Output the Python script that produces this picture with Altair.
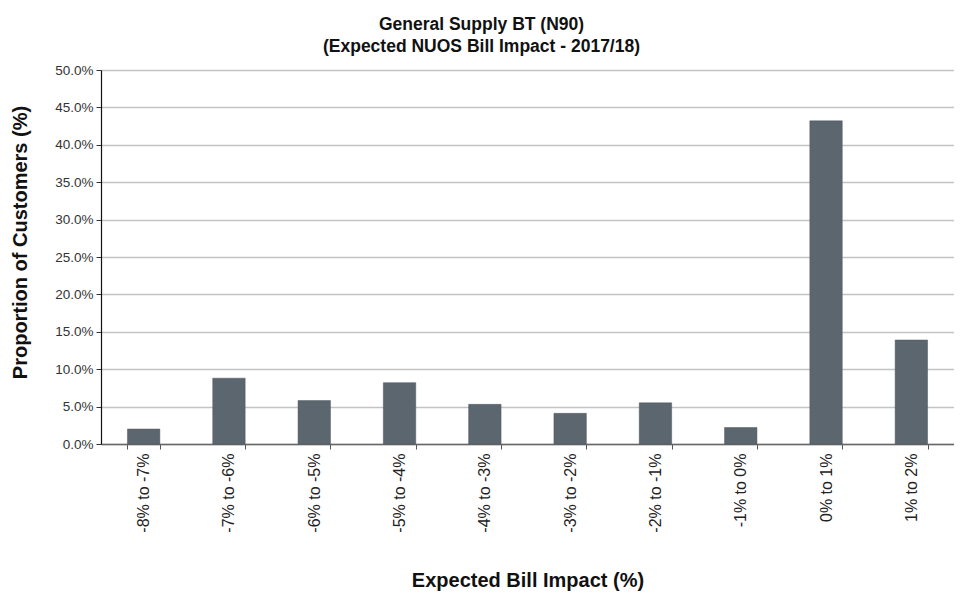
import altair as alt
import pandas as pd

categories = ["-8% to -7%", "-7% to -6%", "-6% to -5%", "-5% to -4%", "-4% to -3%",
              "-3% to -2%", "-2% to -1%", "-1% to 0%", "0% to 1%", "1% to 2%"]
proportions = [2.0, 8.8, 5.8, 8.2, 5.3, 4.1, 5.5, 2.2, 43.2, 13.9]
y_ticks = [0, 5, 10, 15, 20, 25, 30, 35, 40, 45, 50]

df = pd.DataFrame({"cat": categories, "val": proportions})

FONT = "Liberation Sans"

chart = alt.Chart(df).mark_bar(color="#5b666e", stroke="#4e585f", strokeWidth=0.5).encode(
    x=alt.X("cat:N", sort=categories,
            scale=alt.Scale(paddingInner=0.62, paddingOuter=0.31),
            axis=alt.Axis(title="Expected Bill Impact (%)", labelAngle=-90,
                          labelFontSize=16, labelColor="#222", labelFont=FONT,
                          labelPadding=4, tickBand="extent", tickSize=5,
                          tickColor="#555", domainColor="#666", domainWidth=1.5,
                          titleFont=FONT, titleFontSize=20, titleFontWeight="bold",
                          titleColor="#111", titleY=136, titleBaseline="middle",
                          grid=False)),
    y=alt.Y("val:Q", scale=alt.Scale(domain=[0, 50], nice=False),
            axis=alt.Axis(title="Proportion of Customers (%)", values=y_ticks,
                          labelExpr="format(datum.value, '.1f') + '%'",
                          labelFontSize=13.5, labelColor="#333", labelFont=FONT,
                          labelPadding=3, tickSize=5, tickColor="#333",
                          domainColor="#111", domainWidth=1.2,
                          gridColor="#c4c4c4", gridWidth=1.6,
                          titleFont=FONT, titleFontSize=20, titleFontWeight="bold",
                          titleColor="#111", titleAngle=-90, titleX=-81, titleY=172,
                          titleBaseline="middle", titleAlign="center")),
).properties(
    width=853, height=374,
    title=alt.TitleParams(text=["General Supply BT (N90)", "(Expected NUOS Bill Impact - 2017/18)"],
                          font=FONT, fontSize=17.5, fontWeight="bold", color="#111",
                          anchor="middle", dx=-46, lineHeight=22, offset=8),
    padding={"left": 93, "top": 62, "right": 0, "bottom": 150},
    autosize="none",
).configure_view(stroke=None)

chart.save("out.html", embed_options={"renderer": "svg", "actions": False})
